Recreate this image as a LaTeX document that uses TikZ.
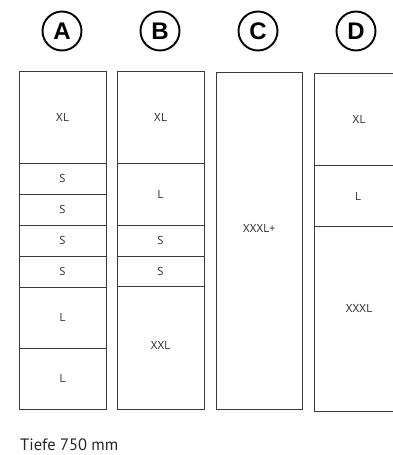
\documentclass[tikz,border=0pt]{standalone}
\usepackage{fontspec}
\setmainfont{PT Sans}
\newfontfamily\circfont{Liberation Sans}
\usetikzlibrary{positioning}
\definecolor{drawerLine}{HTML}{3A3A3A}
\definecolor{drawerText}{HTML}{333333}

\begin{document}
\begin{tikzpicture}[
        x=1pt, y=-1pt,
        drawerbox/.style={
            draw=drawerLine,
            line width=0.9pt
        },
        drawerlabel/.style={
            font=\fontsize{11.5}{13}\selectfont,
            text=drawerText,
            inner sep=1pt
        },
        columntag/.style={
            circle,
            draw=black,
            line width=1.9pt,
            minimum size=39pt,
            inner sep=0pt,
            font=\circfont\bfseries\fontsize{24}{24}\selectfont
        }
    ]

    % Seite 393 x 455, y zeigt nach unten
    \useasboundingbox (0,0) rectangle (393,455);
    \clip (0,0) rectangle (393,455);

    \node[columntag] (tagA) at (62,31) {A};
    \node[columntag] (tagB) at (160,31) {B};
    \node[columntag] (tagC) at (258,31) {C};
    \node[columntag] (tagD) at (356,31) {D};

    % Spalte A
    \begin{scope}
        \path[drawerbox] (19,71) rectangle (106,163);
        \path[drawerbox] (19,163) rectangle (106,194);
        \path[drawerbox] (19,194) rectangle (106,225);
        \path[drawerbox] (19,225) rectangle (106,256);
        \path[drawerbox] (19,256) rectangle (106,287);
        \path[drawerbox] (19,287) rectangle (106,348);
        \path[drawerbox] (19,348) rectangle (106,409);

        \node[drawerlabel] (a1) at (62.5,117) {XL};
        \node[drawerlabel] (a2) at (62.5,178.5) {S};
        \node[drawerlabel] (a3) at (62.5,209.5) {S};
        \node[drawerlabel] (a4) at (62.5,240.5) {S};
        \node[drawerlabel] (a5) at (62.5,271.5) {S};
        \node[drawerlabel] (a6) at (62.5,317.5) {L};
        \node[drawerlabel] (a7) at (62.5,378.5) {L};
    \end{scope}

    % Spalte B
    \begin{scope}
        \path[drawerbox] (117,71) rectangle (204,163);
        \path[drawerbox] (117,163) rectangle (204,225);
        \path[drawerbox] (117,225) rectangle (204,256);
        \path[drawerbox] (117,256) rectangle (204,286);
        \path[drawerbox] (117,286) rectangle (204,409);

        \node[drawerlabel] (b1) at (160.5,117) {XL};
        \node[drawerlabel] (b2) at (160.5,194) {L};
        \node[drawerlabel] (b3) at (160.5,240.5) {S};
        \node[drawerlabel] (b4) at (160.5,271) {S};
        \node[drawerlabel] (b5) at (160.5,345) {XXL};
    \end{scope}

    % Spalte C
    \begin{scope}
        \path[drawerbox] (216,72) rectangle (302,409.5);

        \node[drawerlabel] (c1) at (259,228) {XXXL+};
    \end{scope}

    % Spalte D (rechts angeschnitten)
    \begin{scope}
        \path[drawerbox] (314.5,73) rectangle (402,411);
        \draw[drawerbox] (314.5,165.5) -- (402,165.5);
        \draw[drawerbox] (314.5,226.5) -- (402,226.5);

        \node[drawerlabel] (d1) at (359,119.5) {XL};
        \node[drawerlabel] (d2) at (358,196) {L};
        \node[drawerlabel] (d3) at (359,308) {XXXL};
    \end{scope}

    \node[anchor=base west, inner sep=0pt, font=\fontsize{16.5}{18}\selectfont,
        text=black!85] (depth) at (20,450) {Tiefe 750~mm};

\end{tikzpicture}
\end{document}
